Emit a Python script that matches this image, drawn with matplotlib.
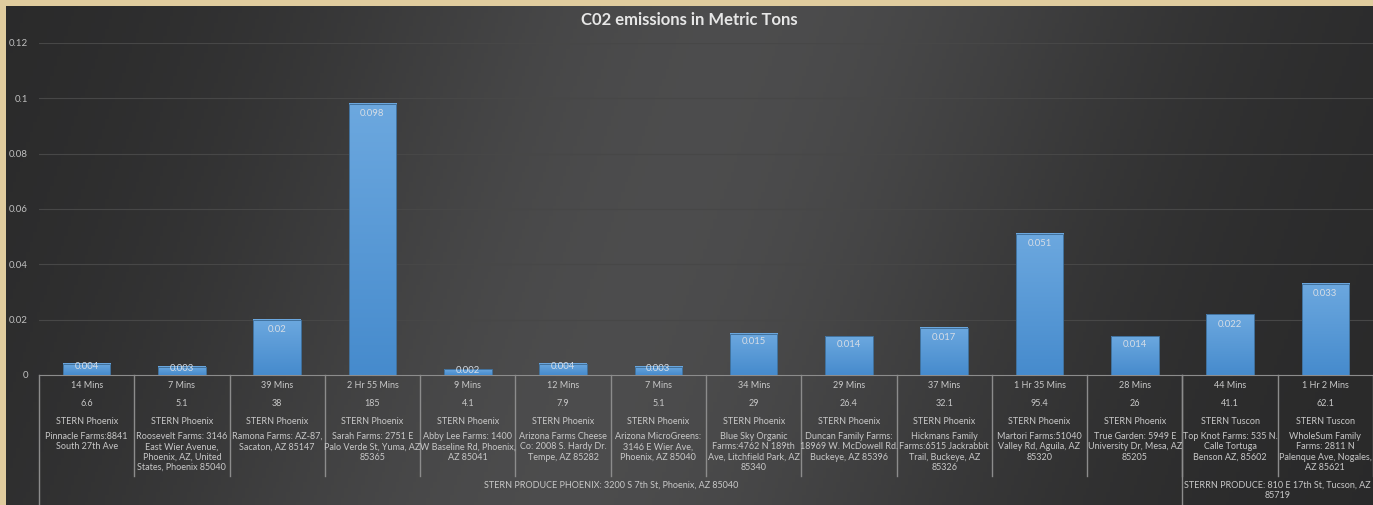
import numpy as np
import matplotlib.pyplot as plt
from matplotlib.colors import LinearSegmentedColormap

plt.rcParams['font.family'] = ['Lato', 'DejaVu Sans']

# data
times = ['14 Mins', '7 Mins', '39 Mins', '2 Hr 55 Mins', '9 Mins', '12 Mins', '7 Mins',
         '34 Mins', '29 Mins', '37 Mins', '1 Hr 35 Mins', '28 Mins', '44 Mins', '1 Hr 2 Mins']
miles = ['6.6', '5.1', '38', '185', '4.1', '7.9', '5.1', '29', '26.4', '32.1', '95.4', '26', '41.1', '62.1']
stations = ['STERN Phoenix'] * 12 + ['STERN Tuscon'] * 2
farms = [
    'Pinnacle Farms:8841\nSouth 27th Ave',
    'Roosevelt Farms: 3146\nEast Wier Avenue,\nPhoenix, AZ, United\nStates, Phoenix 85040',
    'Ramona Farms: AZ-87,\nSacaton, AZ 85147',
    'Sarah Farms: 2751 E\nPalo Verde St, Yuma, AZ\n85365',
    'Abby Lee Farms: 1400\nW Baseline Rd, Phoenix,\nAZ 85041',
    'Arizona Farms Cheese\nCo: 2008 S. Hardy Dr.\nTempe, AZ 85282',
    'Arizona MicroGreens:\n3146 E Wier Ave,\nPhoenix, AZ 85040',
    'Blue Sky Organic\nFarms:4762 N 189th\nAve, Litchfield Park, AZ\n85340',
    'Duncan Family Farms:\n18969 W. McDowell Rd.\nBuckeye, AZ 85396',
    'Hickmans Family\nFarms:6515 Jackrabbit\nTrail, Buckeye, AZ\n85326',
    'Martori Farms:51040\nValley Rd, Aguila, AZ\n85320',
    'True Garden: 5949 E\nUniversity Dr, Mesa, AZ\n85205',
    'Top Knot Farms: 535 N.\nCalle Tortuga\nBenson AZ, 85602',
    'WholeSum Family\nFarms: 2811 N\nPalenque Ave, Nogales,\nAZ 85621',
]
co2 = [0.004, 0.003, 0.02, 0.098, 0.002, 0.004, 0.003, 0.015, 0.014, 0.017, 0.051, 0.014, 0.022, 0.033]
groups = ['STERN PRODUCE PHOENIX: 3200 S 7th St, Phoenix, AZ 85040',
          'STERRN PRODUCE: 810 E 17th St, Tucson, AZ\n85719']
group_sizes = [12, 2]

W, H = 1373, 505
fig = plt.figure(figsize=(W / 100, H / 100), dpi=100)
fig.patch.set_facecolor('#e0cc9e')

# dark gradient panel
bg = fig.add_axes([6 / W, 0, (W - 6) / W, (H - 6) / H])
bg.axis('off')
xx, yy = np.meshgrid(np.linspace(0, W, 400), np.linspace(0, H, 150))
centre = 560 + 0.35 * (H - yy)
shade = 0.16 + 0.14 * np.exp(-((xx - centre) / 430) ** 2)
bg.imshow(np.dstack([shade, shade, shade * 1.01]).clip(0, 1), aspect='auto',
          extent=[0, 1, 0, 1], origin='upper')
bg.set_xlim(0, 1)
bg.set_ylim(0, 1)

ax = fig.add_axes([39 / W, (H - 375) / H, (W - 39) / W, (375 - 43) / H])
ax.set_facecolor('none')
x = np.arange(len(co2))

bars = ax.bar(x, co2, width=0.5, color='none', edgecolor='#41719c', linewidth=0.7, zorder=4)
cmap = LinearSegmentedColormap.from_list('bluebar', ['#468bcd', '#6ca8df'])
grad = np.linspace(1, 0, 100).reshape(-1, 1)
for b in bars:
    bx, bw, bh = b.get_x(), b.get_width(), b.get_height()
    ax.imshow(grad, extent=[bx, bx + bw, 0, bh], aspect='auto', cmap=cmap,
              interpolation='bilinear', zorder=3)

ax.set_xlim(-0.5, len(co2) - 0.5)
ax.set_ylim(0, 0.12)
ax.set_yticks(np.arange(0, 0.121, 0.02))
ax.set_yticklabels(['0', '0.02', '0.04', '0.06', '0.08', '0.1', '0.12'])
ax.tick_params(axis='y', length=0, pad=8, labelsize=7, labelcolor='#bfbfbf')
ax.set_xticks([])
ax.grid(axis='y', color='#474747', linewidth=0.8)
ax.set_axisbelow(True)
for s in ['top', 'right', 'left']:
    ax.spines[s].set_visible(False)
ax.spines['bottom'].set_color('#8c8c8c')

# value labels inside the bar tops
px_per_unit = (375 - 43) / 0.12
for b, v in zip(bars, co2):
    off = min(10, v * px_per_unit * 0.2)
    ax.annotate(str(v), (b.get_x() + b.get_width() / 2, v), xytext=(0, -off),
                textcoords='offset pixels', ha='center', va='center',
                fontsize=6.8, color='#d6dde6', zorder=5)

# multi-level category axis
lab = dict(xycoords=('data', 'axes fraction'), textcoords='offset pixels',
           ha='center', fontsize=6.5, color='#c8c8c8', annotation_clip=False)
for i in x:
    ax.annotate(times[i], (i, 0), xytext=(0, -11), va='center', **lab)
    ax.annotate(miles[i], (i, 0), xytext=(0, -28), va='center', **lab)
    ax.annotate(stations[i], (i, 0), xytext=(0, -46), va='center', **lab)
    ax.annotate(farms[i], (i, 0), xytext=(0, -57), va='top', linespacing=1.18, **lab)

ax_h = 375 - 43
trans = ax.get_xaxis_transform()
for i in range(len(co2)):
    ax.plot([i + 0.5, i + 0.5], [0, -101 / ax_h], transform=trans, color='#8c8c8c',
            linewidth=1, clip_on=False)

start = 0
edges = [-0.5]
for g, n in zip(groups, group_sizes):
    mid = start + (n - 1) / 2
    ax.annotate(g, (mid, 0), xytext=(0, -106), va='top', linespacing=1.18, **lab)
    start += n
    edges.append(start - 0.5)
for e in edges[:-1]:
    ax.plot([e, e], [0, -140 / ax_h], transform=trans, color='#8c8c8c',
            linewidth=1, clip_on=False)

fig.text((6 + W) / 2 / W, 1 - 20 / H, 'C02 emissions in Metric Tons', ha='center',
         va='center', fontsize=12, fontweight='bold', color='#e6e6e6')

fig.savefig('out.png', dpi=100, facecolor=fig.get_facecolor())
